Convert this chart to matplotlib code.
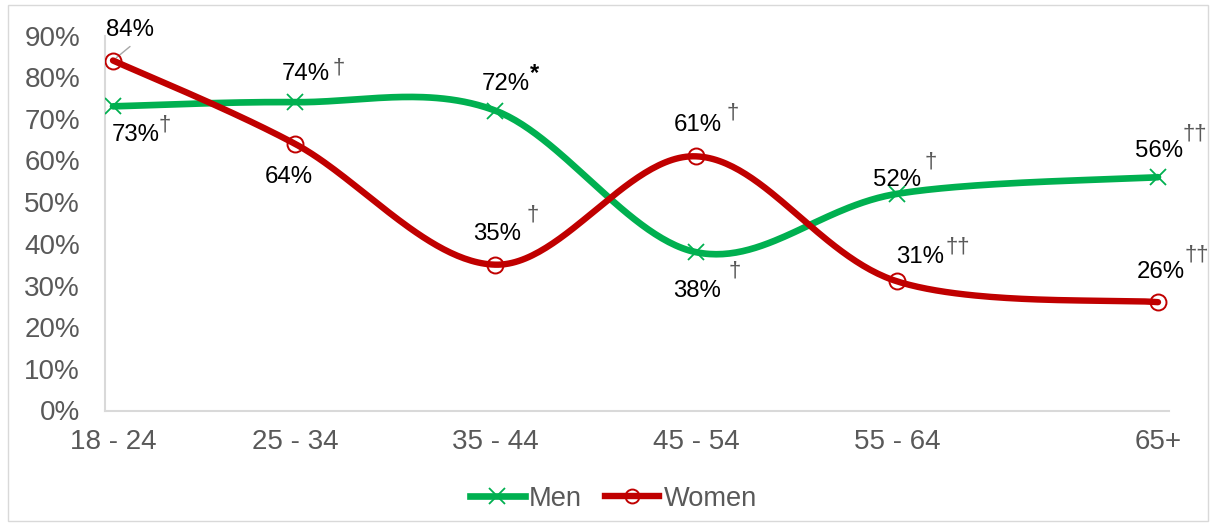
import matplotlib
matplotlib.use("Agg")
import matplotlib.pyplot as plt
from matplotlib.lines import Line2D
from matplotlib.patches import Rectangle
import numpy as np

plt.rcParams['font.family'] = ['Liberation Sans', 'DejaVu Sans']

# ---- data ----
age_groups = ["18 - 24", "25 - 34", "35 - 44", "45 - 54", "55 - 64", "65+"]
men = [73, 74, 72, 38, 52, 56]
women = [84, 64, 35, 61, 31, 26]
men_marks = ["†", "†", "*", "†", "†", "††"]
women_marks = ["", "", "†", "†", "††", "††"]
y_ticks = [0, 10, 20, 30, 40, 50, 60, 70, 80, 90]

# ---- layout ----
x_slots = [113, 295, 495, 696, 897, 1158]  # horizontal category positions
GREEN = "#00B050"
RED = "#C00000"
GREY_TXT = "#595959"
AXIS_GREY = "#D9D9D9"

# label offsets in pixels: (value text dx, dy, mark dx, dy)
men_off = [(23, -29, 52, -19), (11, 28, 44, 34), (11, 26, 40, 37),
           (1, -39, 39, -19), (0, 14, 34, 32), (1, 26, 37, 43)]
women_off = [(17, 31, 0, 0), (-6, -33, 0, 0), (2, 31, 38, 50),
             (2, 31, 37, 43), (23, 24, 61, 34), (3, 30, 39, 47)]


def smooth(xs, ys, n=60):
    """Cubic Bezier smoothing through the points (Catmull-Rom style)."""
    P = np.column_stack([xs, ys]).astype(float)
    out = []
    for i in range(len(P) - 1):
        p0 = P[i - 1] if i > 0 else P[i]
        p1 = P[i]
        p2 = P[i + 1]
        p3 = P[i + 2] if i + 2 < len(P) else P[i + 1]
        c1 = p1 + (p2 - p0) / 6.0
        c2 = p2 - (p3 - p1) / 6.0
        t = np.linspace(0, 1, n)[:, None]
        seg = ((1 - t) ** 3) * p1 + 3 * ((1 - t) ** 2) * t * c1 + 3 * (1 - t) * t ** 2 * c2 + t ** 3 * p2
        out.append(seg if i == 0 else seg[1:])
    pts = np.vstack(out)
    return pts[:, 0], pts[:, 1]


fig = plt.figure(figsize=(12.1, 5.25), dpi=100)
ax = fig.add_axes([105 / 1210, (525 - 410.5) / 525, (1169 - 105) / 1210, 375 / 525])

# series
sx, sy = smooth(x_slots, men)
ax.plot(sx, sy, color=GREEN, lw=4.8, solid_capstyle='round', zorder=3)
ax.plot(x_slots, men, linestyle='none', marker='x', markersize=12, markeredgewidth=1.3,
        color=GREEN, zorder=4)
sx, sy = smooth(x_slots, women)
ax.plot(sx, sy, color=RED, lw=4.6, solid_capstyle='round', zorder=5)
ax.plot(x_slots, women, linestyle='none', marker='o', markersize=11.5, markeredgewidth=1.4,
        markerfacecolor='none', markeredgecolor=RED, zorder=6)

# axes styling
ax.set_xlim(105, 1169)
ax.set_ylim(0, 90)
ax.set_xticks(x_slots)
ax.set_xticklabels(age_groups)
ax.set_yticks(y_ticks)
ax.set_yticklabels([f"{v}%" for v in y_ticks])
ax.tick_params(axis='both', length=0, labelsize=20, labelcolor=GREY_TXT)
ax.tick_params(axis='y', pad=18)
ax.tick_params(axis='x', pad=13)
for side in ('top', 'right'):
    ax.spines[side].set_visible(False)
for side in ('left', 'bottom'):
    ax.spines[side].set_color(AXIS_GREY)
    ax.spines[side].set_linewidth(1.5)

# value labels
def label_series(vals, marks, offs):
    for x, v, m, (dx, dy, mdx, mdy) in zip(x_slots, vals, marks, offs):
        ax.annotate(f"{v}%", xy=(x, v), xytext=(dx, dy), textcoords='offset pixels',
                    ha='center', va='center', fontsize=17.3, color='black', zorder=8,
                    annotation_clip=False)
        if m:
            if m == "*":
                ax.annotate(m, xy=(x, v), xytext=(mdx, mdy), textcoords='offset pixels',
                            ha='center', va='center', fontsize=17, fontweight='bold',
                            color='black', zorder=8, annotation_clip=False)
            else:
                ax.annotate(m, xy=(x, v), xytext=(mdx, mdy), textcoords='offset pixels',
                            ha='center', va='center', fontsize=16, color=GREY_TXT,
                            zorder=8, annotation_clip=False)


label_series(men, men_marks, men_off)
label_series(women, women_marks, women_off)

# leader line for the first women label
ax.annotate("", xy=(x_slots[0], women[0]), xytext=(17, 14), textcoords='offset pixels',
            arrowprops=dict(arrowstyle='-', color='#A6A6A6', lw=1, shrinkA=0, shrinkB=3))

# legend
handles = [
    Line2D([], [], color=GREEN, lw=4.8, marker='x', markersize=12, markeredgewidth=1.3),
    Line2D([], [], color=RED, lw=4.6, marker='o', markersize=10, markeredgewidth=1.4,
           markerfacecolor='none', markeredgecolor=RED),
]
leg = fig.legend(handles, ["Men", "Women"], loc='center', bbox_to_anchor=(0.507, 0.0495),
                 ncol=2, frameon=False, fontsize=19.6, handlelength=2.0,
                 handletextpad=0.15, columnspacing=0.85)
for t in leg.get_texts():
    t.set_color(GREY_TXT)

# chart frame
fig.patches.append(Rectangle((8 / 1210, 4 / 525), 1200 / 1210, 516 / 525,
                             transform=fig.transFigure, fill=False,
                             edgecolor=AXIS_GREY, lw=1))

fig.savefig("out.png", dpi=100)
